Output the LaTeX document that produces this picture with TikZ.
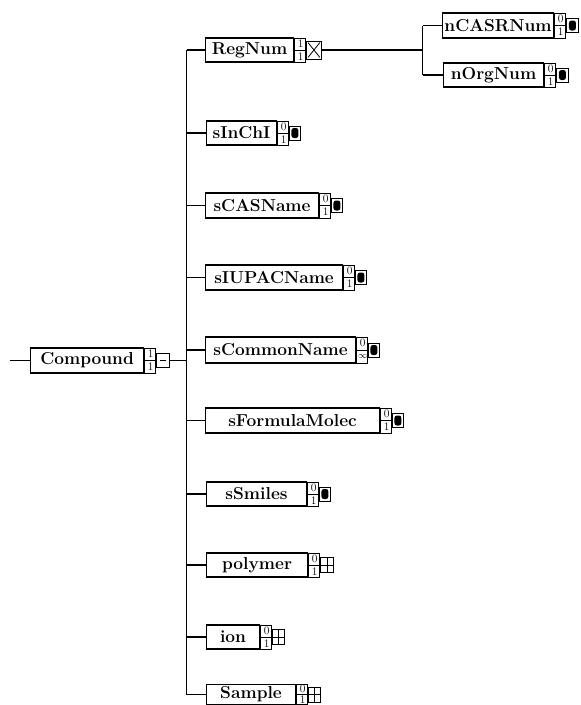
\documentclass[tikz,border=0pt]{standalone}
\tikzset{
  elembox/.style={draw, line width=1.1pt, anchor=west, inner sep=0pt,
    font=\fontsize{17.3}{17.3}\selectfont\bfseries},
  multcell/.style={draw, line width=0.9pt, anchor=west, minimum width=11pt, inner sep=0pt},
  iconbox/.style={draw, line width=0.9pt, anchor=west, inner sep=0pt},
  tinynum/.style={font=\fontsize{11.5}{11.5}\selectfont, inner sep=0pt},
  conn/.style={line width=1.1pt},
}
% element box + occurrence cell:  name, label, left x, width, centre y, height, min, max
\newcommand{\xsdelem}[8]{%
  \node[elembox, minimum width=#4pt, minimum height=#6pt] (#1) at (#3,#5) {#2};
  \node[multcell, minimum height=#6pt] (#1-m) at (#1.east) {};
  \draw[line width=2.2pt] (#1-m.north west) -- (#1-m.south west);
  \draw[line width=0.6pt] (#1-m.west) -- (#1-m.east);
  \path (#1-m.north) -- (#1-m.center) node[midway, tinynum, xshift=0.6pt] (#1-mt) {#7};
  \path (#1-m.south) -- (#1-m.center) node[midway, tinynum, xshift=0.6pt] (#1-mb) {#8};
}
% content-model icon: name, width, height
\newcommand{\xsdicon}[3]{%
  \node[iconbox, minimum width=#2pt, minimum height=#3pt] (#1-i) at (#1-m.east) {};
}
\newcommand{\iconsimple}[1]{%
  \node[fill, rounded corners=2.5pt, minimum width=7pt, minimum height=10pt, inner sep=0pt] (#1-f) at (#1-i.center) {};
}
\newcommand{\icongrid}[1]{%
  \draw[line width=0.8pt] (#1-i.north) -- (#1-i.south) (#1-i.west) -- (#1-i.east);
}
\newcommand{\iconchoice}[1]{%
  \draw[line width=0.8pt] ([shift={(2,2)}]#1-i.north west) -- ([shift={(-2,-2)}]#1-i.south east)
    ([shift={(2,-2)}]#1-i.south west) -- ([shift={(-2,2)}]#1-i.north east);
}
\newcommand{\iconseq}[1]{%
  \draw[line width=0.8pt] ([xshift=-3pt]#1-i.center) -- ([xshift=3pt]#1-i.center);
}
\newcommand{\unbounded}{{\fontsize{9}{9}\selectfont$\infty$}}
\begin{document}
\begin{tikzpicture}[x=1pt, y=-1pt]
\useasboundingbox (0,0) rectangle (581,705);

% root element
\xsdelem{compound}{Compound}{30}{113}{360.5}{25}{1}{1}
\xsdicon{compound}{13}{14}\iconseq{compound}

% children
\xsdelem{regnum}{RegNum}{205}{88}{50}{24}{1}{1}
\xsdicon{regnum}{15}{18}\iconchoice{regnum}
\xsdelem{sinchi}{sInChI}{206}{70}{133}{24}{0}{1}
\xsdicon{sinchi}{11}{14}\iconsimple{sinchi}
\xsdelem{scasname}{sCASName}{205}{113}{205.5}{25}{0}{1}
\xsdicon{scasname}{11}{14}\iconsimple{scasname}
\xsdelem{siupacname}{sIUPACName}{205}{137}{277.5}{25}{0}{1}
\xsdicon{siupacname}{11}{14}\iconsimple{siupacname}
\xsdelem{scommonname}{sCommonName}{205}{150}{350}{26}{0}{\unbounded}
\xsdicon{scommonname}{11}{14}\iconsimple{scommonname}
\xsdelem{sformulamolec}{sFormulaMolec}{205}{174}{420.5}{25}{0}{1}
\xsdicon{sformulamolec}{11}{14}\iconsimple{sformulamolec}
\xsdelem{ssmiles}{sSmiles}{206}{100}{494}{24}{0}{1}
\xsdicon{ssmiles}{11}{14}\iconsimple{ssmiles}
\xsdelem{polymer}{polymer}{206}{101}{565}{24}{0}{1}
\xsdicon{polymer}{13}{15}\icongrid{polymer}
\xsdelem{ion}{ion}{206}{53}{637}{24}{0}{1}
\xsdicon{ion}{12}{15}\icongrid{ion}
\xsdelem{sample}{Sample}{206}{89}{694.5}{20}{0}{1}
\xsdicon{sample}{12}{15}\icongrid{sample}

% RegNum choice
\xsdelem{ncasrnum}{nCASRNum}{442}{111}{25.5}{25}{0}{1}
\xsdicon{ncasrnum}{12}{14}\iconsimple{ncasrnum}
\xsdelem{norgnum}{nOrgNum}{443}{100}{75}{24}{0}{1}
\xsdicon{norgnum}{12}{14}\iconsimple{norgnum}

% connectors
\coordinate (entry) at (10,360.5);
\coordinate (trunk) at (186.5,50);
\coordinate (subtrunk) at (422.5,50);
\draw[conn] (entry) -- (compound.west);
\draw[conn] (compound-i.east) -- (compound-i.east -| trunk);
\draw[conn] (trunk) -- (sample.west -| trunk);
\foreach \c in {regnum,sinchi,scasname,siupacname,scommonname,sformulamolec,ssmiles,polymer,ion,sample}
  \draw[conn] (\c.west) -- (\c.west -| trunk);
\draw[conn] (regnum-i.east) -- (subtrunk);
\draw[conn] (ncasrnum.west -| subtrunk) -- (norgnum.west -| subtrunk);
\draw[conn] (ncasrnum.west) -- (ncasrnum.west -| subtrunk);
\draw[conn] (norgnum.west) -- (norgnum.west -| subtrunk);
\end{tikzpicture}
\end{document}
